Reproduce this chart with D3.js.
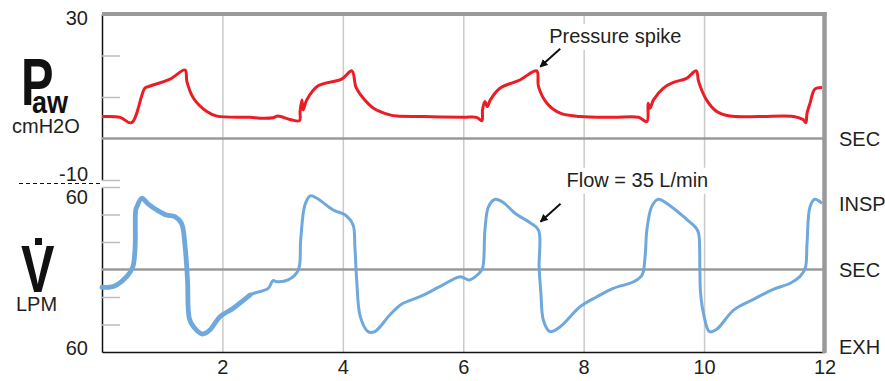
<!DOCTYPE html>
<html><head><meta charset="utf-8">
<script src="https://cdn.jsdelivr.net/npm/d3@7"></script>
<style>
body{margin:0;background:#fff;}
svg{display:block;font-family:"Liberation Sans",Arial,Helvetica,sans-serif;}
</style></head><body>
<svg id="chart" width="885" height="381"></svg>
<script>
// ---- data (time in seconds) ----
const pressureTime = [0,0.30,0.49,0.71,0.77,1.13,1.38,1.41,1.52,1.74,1.91,2.46,2.62,2.84,2.92,3.12,3.28,3.29,3.32,3.34,3.40,3.59,3.98,4.15,4.22,4.34,4.51,4.78,4.90,5.34,6.00,6.22,6.31,6.32,6.36,6.40,6.45,6.61,6.94,7.22,7.25,7.39,7.61,7.94,8.49,8.91,9.05,9.07,9.10,9.16,9.32,9.49,9.71,9.87,9.91,10.04,10.21,10.43,10.93,11.48,11.65,11.69,11.71,11.76,11.84,11.96];
const pressureValues = [5.3,5.1,3.8,12.1,12.5,14.3,16.5,13.7,9.7,6.5,5.4,5.1,4.9,5.0,5.4,4.6,4.3,6.5,9.3,6.9,9.3,12.7,14.3,16.3,12.3,9.7,7.3,5.7,5.4,5.3,5.1,5.1,4.3,6.9,8.9,7.7,9.3,12.1,14.1,16.3,12.5,8.5,6.1,5.3,5.1,5.1,4.1,8.5,7.3,9.3,12.1,13.5,14.5,16.3,13.7,9.3,6.5,5.4,5.3,5.3,4.5,3.8,6.1,8.5,11.9,12.3];
const flowTime = [0,0.13,0.24,0.41,0.51,0.55,0.56,0.58,0.66,0.77,0.91,1.07,1.21,1.32,1.38,1.42,1.45,1.52,1.67,1.79,1.96,2.18,2.46,2.76,2.84,2.90,3.09,3.26,3.30,3.37,3.46,3.57,3.84,4.04,4.17,4.20,4.23,4.29,4.42,4.53,4.78,4.98,5.28,5.61,5.95,6.10,6.25,6.32,6.36,6.42,6.53,6.67,6.86,7.11,7.25,7.26,7.29,7.33,7.44,7.61,7.94,8.22,8.49,8.83,8.97,9.02,9.05,9.13,9.24,9.44,9.71,9.87,9.91,9.93,9.94,9.99,10.09,10.21,10.49,10.82,11.15,11.43,11.59,11.68,11.71,11.76,11.84,11.96];
const flowValues = [-12.9,-12.9,-11.3,-5.2,1.6,16.6,43.3,45.7,51.8,47.6,43.3,39.6,38.4,33.6,16.6,-7.6,-35.5,-41.6,-46.9,-44.0,-34.3,-28.2,-18.5,-13.7,-8.1,-8.9,-7.6,-0.4,21.5,46.9,53.5,51.8,43.3,39.6,32.4,16.6,-7.6,-34.3,-45.2,-45.2,-33.1,-25.1,-19.8,-12.5,-5.2,-7.6,-3.3,0.9,28.7,45.7,51.1,48.6,40.9,34.0,28.7,2.0,-17.3,-36.7,-45.2,-41.6,-27.1,-19.8,-13.7,-8.9,-4.0,9.3,28.7,45.7,51.1,46.2,36.5,30.0,26.3,0.1,-16.1,-31.9,-45.2,-43.5,-29.5,-21.7,-14.4,-10.0,-5.2,0.9,19.1,45.7,51.1,48.1];
const firstBreathEnd = 2.46;

const xTickValues = [2,4,6,8,10,12];
const pressureTickValues = [20,10,-10];
const flowTickValues = [60,40,20,-20,-40];
const pressureEndLabels = ["30","-10"];
const flowEndLabels = ["60","60"];
const pressureRightLabels = ["SEC"];
const pressureRightValues = [0];
const flowRightLabels = ["INSP","SEC","EXH"];
const flowRightValues = [48,0,-56];
const annotations = [
  {text:"Pressure spike", panel:"p", t:7.22, v:16.3},
  {text:"Flow = 35 L/min", panel:"f", t:7.25, v:34.0}
];

// ---- layout ----
const svg = d3.select("#chart");
const X0 = 102, X1 = 824.5;
const x = d3.scaleLinear().domain([0,12]).range([X0,X1]);
const yP = d3.scaleLinear().domain([-10,30]).range([180,14]);
const yF = d3.scaleLinear().domain([-60,60]).range([352,187]);
const RED = "#ec1c24", BLUE = "#6fa8dc", TXT = "#231f20";
const FS = 20;

// vertical gridlines
svg.append("g")
  .attr("transform",`translate(0,352)`)
  .call(d3.axisBottom(x).tickValues(xTickValues.filter(d=>d<12)).tickSize(-338).tickFormat(""))
  .call(g=>g.select(".domain").remove())
  .call(g=>g.selectAll("line").attr("stroke","#cacaca").attr("stroke-width",1.5));

// inner ticks + left axis lines
svg.append("g").attr("transform",`translate(${X0},0)`)
  .call(d3.axisLeft(yP).tickValues(pressureTickValues).tickSize(-18).tickSizeOuter(0).tickFormat(""))
  .call(g=>g.selectAll(".tick line").attr("stroke","#bdbdbd").attr("stroke-width",1.5))
  .call(g=>g.select(".domain").attr("stroke","#111").attr("stroke-width",1.5));
svg.append("g").attr("transform",`translate(${X0},0)`)
  .call(d3.axisLeft(yF).tickValues(flowTickValues).tickSize(-18).tickSizeOuter(0).tickFormat(""))
  .call(g=>g.selectAll(".tick line").attr("stroke","#bdbdbd").attr("stroke-width",1.5))
  .call(g=>g.select(".domain").attr("stroke","#111").attr("stroke-width",1.5));

// SEC (zero) lines
svg.append("line").attr("x1",X0).attr("x2",X1).attr("y1",yP(0)).attr("y2",yP(0))
  .attr("stroke","#9a9a9a").attr("stroke-width",2.5);
svg.append("line").attr("x1",X0).attr("x2",X1).attr("y1",yF(0)).attr("y2",yF(0))
  .attr("stroke","#9a9a9a").attr("stroke-width",2.5);

// curves
const pData = pressureTime.map((t,i)=>[t,pressureValues[i]]);
const fData = flowTime.map((t,i)=>[t,flowValues[i]]);
const lineP = d3.line().x(d=>x(d[0])).y(d=>yP(d[1])).curve(d3.curveCatmullRom.alpha(0.5));
const lineF = d3.line().x(d=>x(d[0])).y(d=>yF(d[1])).curve(d3.curveCatmullRom.alpha(0.5));
svg.append("path").datum(pData).attr("d",lineP).attr("fill","none")
  .attr("stroke",RED).attr("stroke-width",3).attr("stroke-linejoin","round");
svg.append("path").datum(fData).attr("d",lineF).attr("fill","none")
  .attr("stroke",BLUE).attr("stroke-width",3).attr("stroke-linejoin","round");
svg.append("path").datum(fData.filter(d=>d[0]<=firstBreathEnd)).attr("d",lineF).attr("fill","none")
  .attr("stroke",BLUE).attr("stroke-width",4.8).attr("stroke-linejoin","round").attr("stroke-linecap","round");

// x axis
svg.append("g").attr("transform","translate(0,352)")
  .call(d3.axisBottom(x).tickValues(xTickValues).tickSize(0).tickSizeOuter(0).tickPadding(8))
  .call(g=>g.select(".domain").attr("stroke","#111").attr("stroke-width",1.5))
  .call(g=>g.selectAll("text").attr("font-size",FS).attr("fill",TXT).attr("font-family","Liberation Sans, Arial, sans-serif"));

// borders
svg.append("line").attr("x1",X0).attr("x2",X1+2).attr("y1",14).attr("y2",14)
  .attr("stroke","#9a9a9a").attr("stroke-width",4);
svg.append("line").attr("x1",X1).attr("x2",X1).attr("y1",12).attr("y2",353)
  .attr("stroke","#9a9a9a").attr("stroke-width",4.5);

// dashed separator
svg.append("line").attr("x1",19).attr("x2",X0).attr("y1",183.5).attr("y2",183.5)
  .attr("stroke","#111").attr("stroke-width",1).attr("stroke-dasharray","4,3");

// left end labels
const endG = svg.append("g").attr("fill",TXT).attr("font-size",FS).attr("text-anchor","end");
endG.append("text").attr("x",88).attr("y",yP(30)+4).attr("dy","0.35em").text(pressureEndLabels[0]);
endG.append("text").attr("x",88).attr("y",yP(-10)-6).attr("dy","0.35em").text(pressureEndLabels[1]);
endG.append("text").attr("x",88).attr("y",yF(60)+10).attr("dy","0.35em").text(flowEndLabels[0]);
endG.append("text").attr("x",88).attr("y",yF(-60)-4).attr("dy","0.35em").text(flowEndLabels[1]);

// right labels
const rG = svg.append("g").attr("fill",TXT).attr("font-size",FS);
pressureRightLabels.forEach((l,i)=>rG.append("text").attr("x",839).attr("y",yP(pressureRightValues[i])).attr("dy","0.35em").text(l));
flowRightLabels.forEach((l,i)=>rG.append("text").attr("x",839).attr("y",yF(flowRightValues[i])).attr("dy","0.35em").text(l));

// left symbols
const sym = svg.append("g").attr("fill","#111").attr("font-weight","bold");
sym.append("text").attr("transform","translate(21,105) scale(0.74,1)").attr("font-size",66).text("P");
sym.append("text").attr("transform","translate(32,113) scale(0.87,1)").attr("font-size",31).text("aw");
sym.append("text").attr("transform","translate(21,292) scale(0.76,1)").attr("font-size",66).text("V");
sym.append("rect").attr("x",35).attr("y",238).attr("width",7).attr("height",7);
svg.append("text").attr("x",12).attr("y",133).attr("font-size",FS).attr("fill",TXT).text("cmH2O");
svg.append("text").attr("x",16).attr("y",311).attr("font-size",FS).attr("fill",TXT).text("LPM");

// annotations
svg.append("defs").append("marker").attr("id","arr").attr("viewBox","0 0 10 10")
  .attr("refX",9).attr("refY",5).attr("markerWidth",4).attr("markerHeight",4).attr("orient","auto")
  .append("path").attr("d","M0,0 L10,5 L0,10 Z").attr("fill","#111");
annotations.forEach(a=>{
  const ys = a.panel==="p" ? yP : yF;
  const px = x(a.t), py = ys(a.v);
  const tip = a.panel==="p" ? [px+3.5,py-4] : [px+2,py-1];
  const tail = [tip[0]+20,tip[1]-18];
  const tx = a.panel==="p" ? tip[0]+9 : tip[0]+26;
  const ty = a.panel==="p" ? tip[1]-24 : tip[1]-35;
  const t = svg.append("text").attr("x",tx).attr("y",ty).attr("font-size",FS).attr("fill",TXT).text(a.text);
  const bb = t.node().getBBox();
  svg.insert("rect", function(){return t.node();})
    .attr("x",bb.x-3).attr("y",bb.y-1).attr("width",bb.width+6).attr("height",bb.height+4).attr("fill","#fff");
  svg.append("line").attr("x1",tail[0]).attr("y1",tail[1]).attr("x2",tip[0]).attr("y2",tip[1])
    .attr("stroke","#111").attr("stroke-width",2).attr("marker-end","url(#arr)");
});
</script>
</body></html>
